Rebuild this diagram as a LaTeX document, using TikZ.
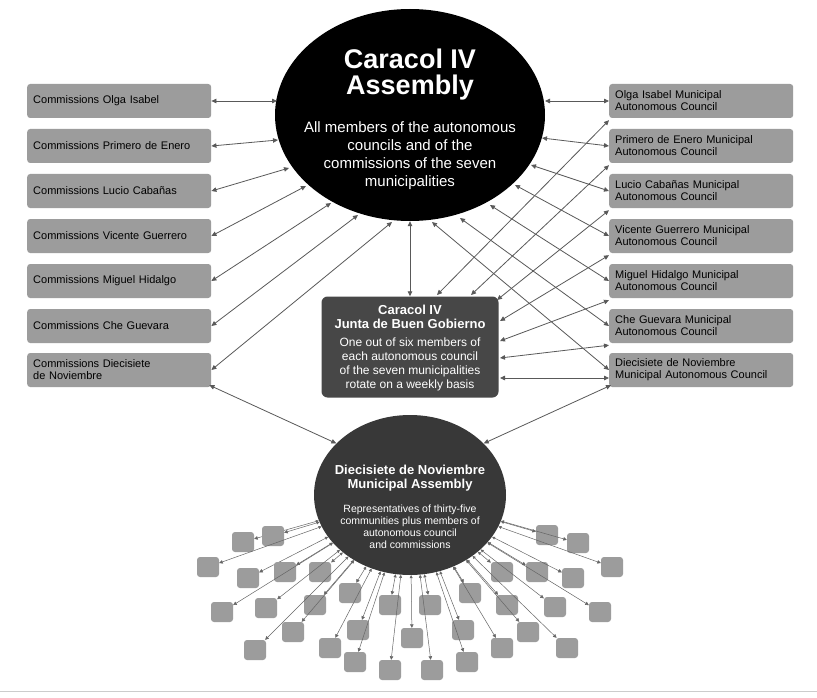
\documentclass[tikz,border=0pt]{standalone}
\usepackage{fontspec}
\setmainfont{Liberation Sans}
\usetikzlibrary{shapes.geometric,arrows.meta}
\begin{document}
\begin{tikzpicture}[x=1pt,y=-1pt,
  box/.style={draw=none,fill=gray!78,rounded corners=3pt,minimum width=184pt,minimum height=34pt,text width=172pt,align=left,inner xsep=6pt,font=\fontsize{11}{12}\selectfont,anchor=west},
  small/.style={fill=gray!78,rounded corners=3pt,minimum width=22pt,minimum height=20pt,inner sep=0pt},
  con/.style={draw=black!65,line width=0.8pt,{Triangle[length=5pt,width=4.5pt]}-{Triangle[length=5pt,width=4.5pt]}},
  fan/.style={draw=black!60,line width=0.5pt,{Triangle[length=3pt,width=3pt]}-{Triangle[length=3.5pt,width=3.5pt]}}]
\useasboundingbox (0,0) rectangle (817,698);
\fill[white] (0,0) rectangle (817,698);
\draw[gray!40] (0,691) -- (817,691);
\node[ellipse,fill=black,minimum width=270pt,minimum height=212pt,inner sep=0pt] (A) at (410,115) {};
\node[text=white,font=\bfseries\fontsize{27}{26}\selectfont,align=center] (At) at (410,75) {Caracol IV\\Assembly};
\node[text=white,font=\fontsize{15}{18}\selectfont,align=center] (Ab) at (410,156) {All members of the autonomous\\councils and of the\\commissions of the seven\\municipalities};
\node[fill=black!72,rounded corners=6pt,minimum width=177pt,minimum height=101pt] (J) at (410,347) {};
\node[text=white,font=\bfseries\fontsize{13}{14.5}\selectfont,align=center] (Jt) at (410,317) {Caracol IV\\Junta de Buen Gobierno};
\node[text=white,font=\fontsize{12}{14}\selectfont,align=center] (Jb) at (410,364) {One out of six members of\\each autonomous council\\of the seven municipalities\\rotate on a weekly basis};
\node[ellipse,fill=black!78,minimum width=192pt,minimum height=160pt,inner sep=0pt] (M) at (410,495) {};
\node[text=white,font=\bfseries\fontsize{13}{14.5}\selectfont,align=center] (Mt) at (410,478) {Diecisiete de Noviembre\\Municipal Assembly};
\node[text=white,font=\fontsize{10.5}{12}\selectfont,align=center] (Mb) at (410,527) {Representatives of thirty-five\\communities plus members of\\autonomous council\\and commissions};
\foreach \n/\y/\t in {1/101/Commissions Olga Isabel,2/146/Commissions Primero de Enero,3/191/Commissions Lucio Cabañas,4/236/Commissions Vicente Guerrero,5/281/Commissions Miguel Hidalgo,6/326/Commissions Che Guevara}
  \node[box] (L\n) at (27,\y) {\t};
\node[box] (L7) at (27,370) {Commissions Diecisiete\\de Noviembre};
\foreach \n/\y/\t in {1/101/Olga Isabel Municipal,2/146/Primero de Enero Municipal,3/191/Lucio Cabañas Municipal,4/236/Vicente Guerrero Municipal,5/281/Miguel Hidalgo Municipal,6/326/Che Guevara Municipal}
  \node[box] (R\n) at (609,\y) {\t\\Autonomous Council};
\node[box] (R7) at (609,370) {Diecisiete de Noviembre\\Municipal Autonomous Council};
% left connections
\coordinate (a1) at (277,101); \coordinate (a2) at (278,140);
\coordinate (a3) at (289,168); \coordinate (a4) at (306,186);
\coordinate (a5) at (331,203); \coordinate (a6) at (358,215);
\coordinate (a7) at (392,222);
\foreach \n in {1,...,7} \draw[con] (L\n.east) -- (a\n);
% right connections
\coordinate (b1) at (545,101); \coordinate (b2) at (542,138);
\coordinate (b3) at (531,165); \coordinate (b4) at (515,185);
\coordinate (b5) at (490,205); \coordinate (b6) at (460,218);
\coordinate (b7) at (432,222);
\foreach \n in {1,...,7} \draw[con] (R\n.west) -- (b\n);
\draw[con] (A.south) -- (J.north);
% councils to junta
\draw[con] ([yshift=-2pt]R1.south west) -- (437,295);
\draw[con] ([yshift=-2pt]R2.south west) -- (471,295);
\draw[con] ([yshift=-2pt]R3.south west) -- (497,300);
\draw[con] ([yshift=-2pt]R4.south west) -- (500,321);
\draw[con] ([yshift=-2pt]R5.south west) -- (500,341);
\draw[con] ([yshift=-2pt]R6.south west) -- (500,358);
\draw[con] (R7.west |- 0,378) -- (500,378);
% to municipal assembly
\draw[con] ([xshift=-2pt,yshift=2pt]L7.south east) -- (M.145);
\draw[con] ([xshift=2pt,yshift=2pt]R7.south west) -- (M.35);
% fan
\foreach \i/\x/\y in {1/243/542,2/273/536,3/208/567,4/248/578,5/285/572,6/320/572,7/222/612,8/266/608,9/315/605,10/350/593,11/293/632,12/255/650,13/330/648,14/358/630,15/390/605,16/355/662,17/390/670,18/412/638,19/430/605,20/432/670,21/470/593,22/463/630,23/467/662,24/502/572,25/507/605,26/502/648,27/528/632,28/537/572,29/555/607,30/567/648,31/573/578,32/547/535,33/578/543,34/612/567,35/600/612}
{
  \node[small] (s\i) at (\x,\y) {};
  \draw[fan] (M) -- (s\i);
}
\end{tikzpicture}
\end{document}
